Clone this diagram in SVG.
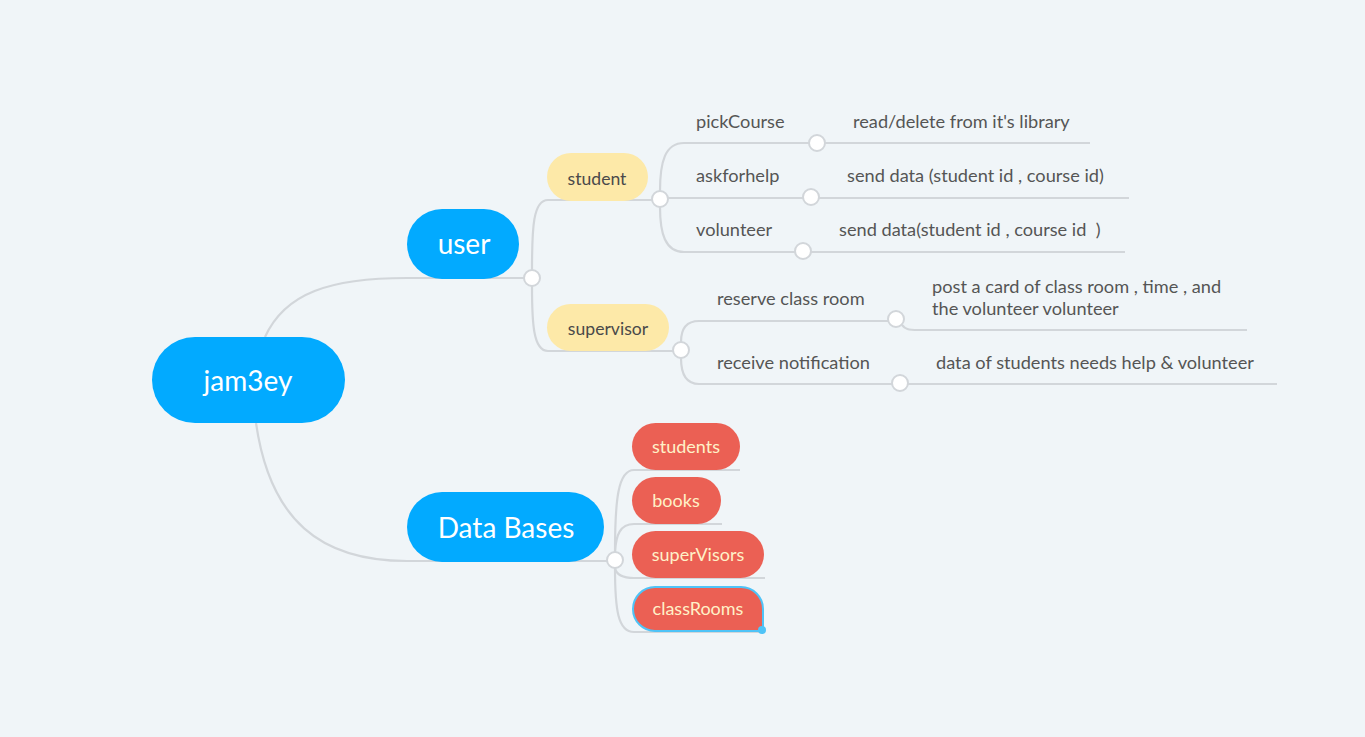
<svg xmlns="http://www.w3.org/2000/svg" width="1365" height="737" viewBox="0 0 1365 737">
<style>
.conn{fill:none;stroke:#d2d6da;stroke-width:2.2}
.dot{fill:#ffffff;stroke:#d2d6da;stroke-width:2}
.blue{fill:#02aaff}
.yellow{fill:#fde9a8}
.red{fill:#eb6054}
.tb{font-family:Lato,"Open Sans",sans-serif;fill:#ffffff;text-anchor:middle;font-size:28px}
.ty{font-family:Lato,"Open Sans",sans-serif;font-size:17.6px;fill:#4a4a4a;text-anchor:middle}
.tr{font-family:Lato,"Open Sans",sans-serif;font-size:18px;fill:#fff1c8;text-anchor:middle}
.tl{font-family:Lato,"Open Sans",sans-serif;font-size:18.2px;fill:#555555}
</style>
<rect x="0" y="0" width="1365" height="737" fill="#f0f5f8"/>
<g id="connectors">
<path class="conn" d="M 265 337 C 285 293, 330 278, 407 278 L 524 278"/>
<path class="conn" d="M 256 423 C 270 520, 320 561, 407 561 L 607 561"/>
<path class="conn" d="M 532 270 C 532 228, 533 200, 548 200 L 652 200"/>
<path class="conn" d="M 532 286 C 532 322, 533 351, 548 351 L 673 351"/>
<path class="conn" d="M 660 191 C 660 162, 665 143, 684 143 L 809 143"/>
<path class="conn" d="M 825 143 L 1090 143"/>
<path class="conn" d="M 668 198 L 803 198"/>
<path class="conn" d="M 819 198 L 1129 198"/>
<path class="conn" d="M 660 207 C 660 233, 665 252, 684 252 L 795 252"/>
<path class="conn" d="M 811 252 L 1125 252"/>
<path class="conn" d="M 681 342 C 681 329, 686 321, 699 321 L 888 321"/>
<path class="conn" d="M 902 325 C 905 329, 908 330, 918 330 L 1247 330"/>
<path class="conn" d="M 681 358 C 681 374, 686 384, 699 384 L 892 384"/>
<path class="conn" d="M 908 384 L 1277 384"/>
<path class="conn" d="M 615 552 C 615 500, 618 470, 634 470 L 740 470"/>
<path class="conn" d="M 615 552 C 616 535, 620 524, 634 524 L 722 524"/>
<path class="conn" d="M 615 568 C 616 573, 620 578, 634 578 L 765 578"/>
<path class="conn" d="M 615 568 C 615 610, 618 632, 634 632 L 765 632"/>
<circle class="dot" cx="532" cy="278" r="8"/>
<circle class="dot" cx="615" cy="560" r="8"/>
<circle class="dot" cx="660" cy="199" r="8"/>
<circle class="dot" cx="681" cy="350" r="8"/>
<circle class="dot" cx="817" cy="143" r="8"/>
<circle class="dot" cx="811" cy="197" r="8"/>
<circle class="dot" cx="803" cy="251" r="8"/>
<circle class="dot" cx="896" cy="319" r="8"/>
<circle class="dot" cx="900" cy="383" r="8"/>
</g>
<g id="root">
<rect class="blue" x="152" y="337" width="193" height="86" rx="43"/>
<text class="tb" x="248" y="391">jam3ey</text>
</g>
<g id="user">
<rect class="blue" x="407" y="209" width="112" height="70" rx="35"/>
<text class="tb" x="464" y="254">user</text>
</g>
<g id="databases">
<rect class="blue" x="407" y="492" width="197" height="70" rx="35"/>
<text class="tb" x="506" y="538">Data Bases</text>
</g>
<g id="student">
<rect class="yellow" x="547" y="153" width="101" height="48" rx="24"/>
<text class="ty" x="597" y="185">student</text>
</g>
<g id="supervisor">
<rect class="yellow" x="547" y="304" width="122" height="47" rx="23.5"/>
<text class="ty" x="608" y="335">supervisor</text>
</g>
<g id="pickCourse"><text class="tl" x="696" y="128">pickCourse</text></g>
<g id="pickCourse-detail"><text class="tl" x="853" y="128">read/delete from it's library</text></g>
<g id="askforhelp"><text class="tl" x="696" y="182">askforhelp</text></g>
<g id="askforhelp-detail"><text class="tl" x="847" y="182">send data (student id , course id)</text></g>
<g id="volunteer"><text class="tl" x="696" y="236">volunteer</text></g>
<g id="volunteer-detail"><text class="tl" x="839" y="236" xml:space="preserve">send data(student id , course id  )</text></g>
<g id="reserve"><text class="tl" x="717" y="305">reserve class room</text></g>
<g id="reserve-detail"><text class="tl" x="932" y="293">post a card of class room , time , and</text><text class="tl" x="932" y="315">the volunteer volunteer</text></g>
<g id="receive"><text class="tl" x="717" y="369">receive notification</text></g>
<g id="receive-detail"><text class="tl" x="936" y="369">data of students needs help &amp; volunteer</text></g>
<g id="students">
<rect class="red" x="632" y="423" width="108" height="47" rx="23.5"/>
<text class="tr" x="686" y="453">students</text>
</g>
<g id="books">
<rect class="red" x="632" y="477" width="89" height="47" rx="23.5"/>
<text class="tr" x="676" y="507">books</text>
</g>
<g id="superVisors">
<rect class="red" x="632" y="531" width="132" height="47" rx="23.5"/>
<text class="tr" x="698" y="561">superVisors</text>
</g>
<g id="classRooms">
<path class="red" d="M 655 587 H 741 A 22 22 0 0 1 763 609 V 631 H 655 A 22 22 0 0 1 655 587 Z" stroke="#4fc3f7" stroke-width="2"/>
<circle cx="762" cy="630" r="4" fill="#4fc3f7"/>
<text class="tr" x="698" y="615">classRooms</text>
</g>
</svg>
